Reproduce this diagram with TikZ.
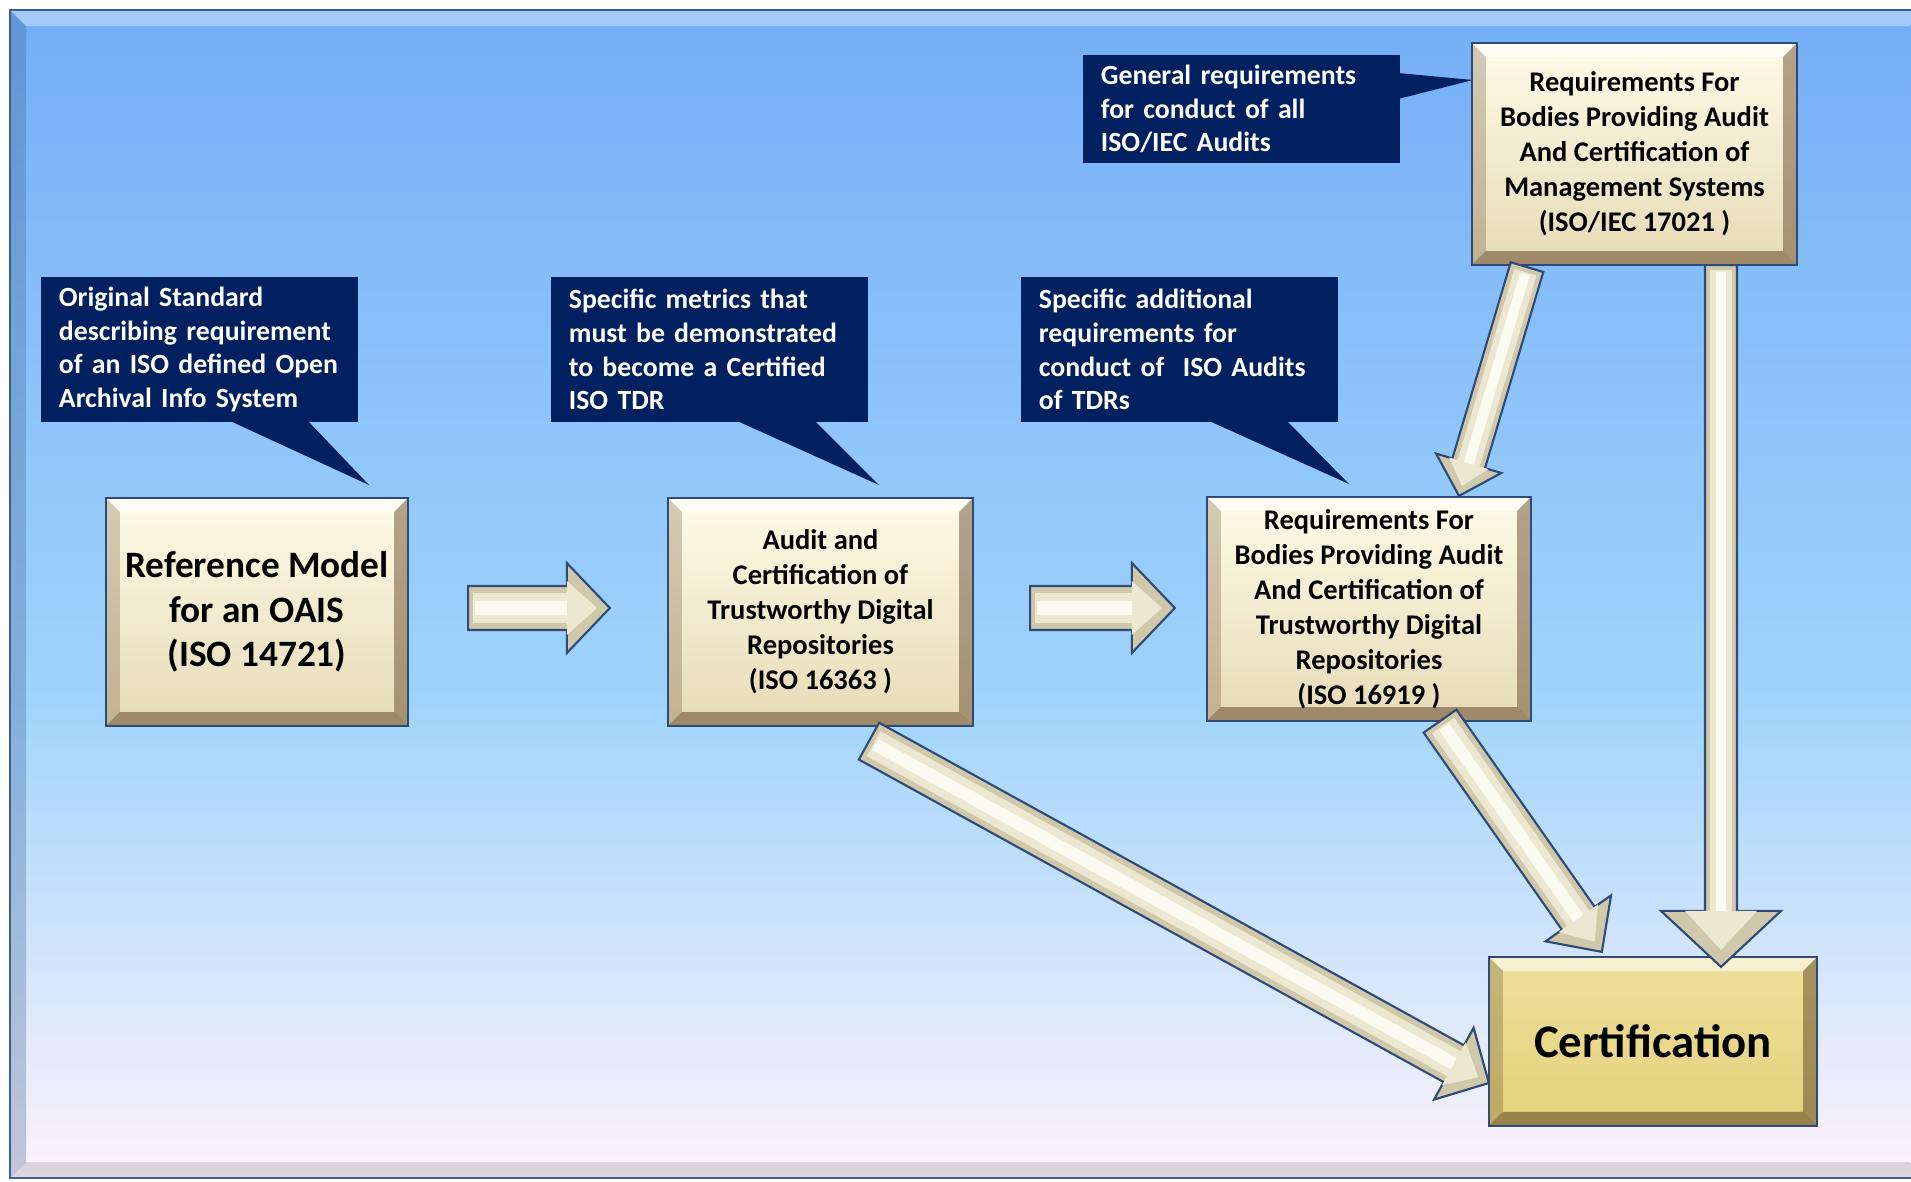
\documentclass[tikz,border=0pt]{standalone}
\usepackage{fontspec}
\setmainfont{Carlito}
\usetikzlibrary{calc}

\definecolor{navynote}{HTML}{002060}
\definecolor{boxline}{HTML}{2E4A78}
\definecolor{panelline}{HTML}{3C5E90}
\definecolor{paneltop}{RGB}{116,174,246}
\definecolor{panelmid}{RGB}{160,212,252}
\definecolor{panelbot}{RGB}{253,243,251}
\definecolor{creamtop}{HTML}{FFFBE8}
\definecolor{creambot}{HTML}{E6DBB6}
\definecolor{goldtop}{HTML}{EEE09A}
\definecolor{goldmid}{HTML}{D3B84E}
\definecolor{goldbot}{HTML}{E4D17C}
\definecolor{arrowtan}{HTML}{CFC8AA}
\definecolor{arrowcream}{HTML}{ECE7D0}
\definecolor{arrowpale}{HTML}{FCFBF2}

\def\pbb{path picture bounding box}

\tikzset{
  note/.style={fill=navynote, text=white, font=\fontsize{7.9}{9.6}\selectfont\bfseries,
    align=left, text width=2.81cm, inner xsep=0.18cm, inner ysep=0pt, minimum width=3.17cm},
  bevel/.style={path picture={
    \fill[white,opacity=.55] (\pbb.north west) -- (\pbb.north east) -- ([xshift=-4pt,yshift=-4pt]\pbb.north east) -- ([xshift=4pt,yshift=-4pt]\pbb.north west) -- cycle;
    \fill[#1,opacity=.25] (\pbb.north west) -- ([xshift=4pt,yshift=-4pt]\pbb.north west) -- ([xshift=4pt,yshift=4pt]\pbb.south west) -- (\pbb.south west) -- cycle;
    \fill[#1,opacity=.45] (\pbb.north east) -- ([xshift=-4pt,yshift=-4pt]\pbb.north east) -- ([xshift=-4pt,yshift=4pt]\pbb.south east) -- (\pbb.south east) -- cycle;
    \fill[#1,opacity=.5] (\pbb.south west) -- ([xshift=4pt,yshift=4pt]\pbb.south west) -- ([xshift=-4pt,yshift=4pt]\pbb.south east) -- (\pbb.south east) -- cycle;
  }},
  stdbox/.style={draw=boxline, line width=0.6pt, top color=creamtop, bottom color=creambot,
    bevel=black!55!brown, align=center, inner sep=0pt, font=\fontsize{8.1}{9.96}\selectfont\bfseries},
  certbox/.style={draw=boxline, line width=0.6pt, top color=goldtop, middle color=goldmid, bottom color=goldbot,
    bevel=black!60!brown, inner sep=0pt, font=\fontsize{13.3}{16}\selectfont\bfseries},
  fatarrow/.style={fill=arrowtan, draw=boxline, line width=0.6pt, line join=miter},
}

% start, end, shaft half width, head half width, head length (px)
\newcommand{\blockarrow}[5]{%
  \coordinate (ba-s) at #1;
  \coordinate (ba-e) at #2;
  \coordinate (ba-n) at ($(ba-e)!#5*0.01cm!(ba-s)$);
  \filldraw[fatarrow] ($(ba-s)!#3*0.01cm!90:(ba-e)$) -- ($(ba-n)!#3*0.01cm!90:(ba-e)$)
    -- ($(ba-n)!#4*0.01cm!90:(ba-e)$) -- (ba-e) -- ($(ba-n)!#4*0.01cm!-90:(ba-e)$)
    -- ($(ba-n)!#3*0.01cm!-90:(ba-e)$) -- ($(ba-s)!#3*0.01cm!-90:(ba-e)$) -- cycle;
  \fill[arrowcream] ($(ba-n)!#4*0.006cm!90:(ba-e)$) -- ($(ba-e)!#5*0.003cm!(ba-s)$)
    -- ($(ba-n)!#4*0.006cm!-90:(ba-e)$) -- cycle;
  \draw[arrowcream, line width=#3*0.0135cm, shorten <=1.5pt] (ba-s) -- (ba-n);
  \draw[arrowpale, line width=#3*0.006cm, shorten <=2pt] (ba-s) -- (ba-n);
}

\begin{document}
\begin{tikzpicture}[x=0.01cm, y=-0.01cm]
	\useasboundingbox (0,0) rectangle (1911,1181);
	\fill[white] (0,0) rectangle (1911,1181);

	\shade[top color=paneltop, bottom color=panelmid] (10,10) rectangle (1925,701);
	\shade[top color=panelmid, bottom color=panelbot] (10,700) rectangle (1925,1178);
	\fill[white,opacity=.35] (10,10) -- (1925,10) -- (1909,26) -- (26,26) -- cycle;
	\fill[panelline,opacity=.3] (10,10) -- (26,26) -- (26,1162) -- (10,1178) -- cycle;
	\fill[black,opacity=.12] (10,1178) -- (26,1162) -- (1909,1162) -- (1925,1178) -- cycle;
	\draw[panelline, line width=0.8pt] (10,10) rectangle (1925,1178);

	\fill[navynote] (228,420) -- (369,485) -- (307,420) -- cycle;
	\fill[navynote] (735,420) -- (879,485) -- (814,420) -- cycle;
	\fill[navynote] (1207,420) -- (1349,484) -- (1286,420) -- cycle;
	\fill[navynote] (1398,73) -- (1473,80) -- (1398,99) -- cycle;

	\node[note, minimum height=1.45cm] (noteA) at (199.5,349.5) {Original Standard\\describing requirement\\of an ISO defined Open\\Archival Info System};
	\node[note, minimum height=1.45cm] (noteB) at (709.5,349.5) {Specific metrics that\\must be demonstrated\\to become a Certified\\ISO TDR};
	\node[note, minimum height=1.45cm] (noteC) at (1179.5,349.5) {Specific additional\\requirements for\\conduct of~ ISO Audits\\of TDRs};
	\node[note, minimum height=1.08cm] (noteD) at (1241.5,109) {General requirements\\for conduct of all\\ISO/IEC Audits};

	\node[stdbox, font=\fontsize{10.6}{12.66}\selectfont\bfseries, minimum width=3.02cm, minimum height=2.28cm] (ref) at (257,612) {Reference Model\\for an OAIS\\(ISO 14721)};
	\node[stdbox, minimum width=3.05cm, minimum height=2.28cm] (tdr) at (820.5,612) {Audit and\\Certification of\\Trustworthy Digital\\Repositories\\(ISO 16363 )};
	\node[stdbox, minimum width=3.24cm, minimum height=2.24cm] (bodies) at (1369,609) {Requirements For\\Bodies Providing Audit\\And Certification of\\Trustworthy Digital\\Repositories\\(ISO 16919 )};
	\node[stdbox, minimum width=3.25cm, minimum height=2.22cm] (mgmt) at (1634.5,154) {Requirements For\\Bodies Providing Audit\\And Certification of\\Management Systems\\(ISO/IEC 17021 )};
	\node[certbox, minimum width=3.28cm, minimum height=1.69cm] (cert) at (1653,1041.5) {Certification};

	\blockarrow{($(ref.east)+(59,-4)$)}{($(tdr.west)+(-57,-4)$)}{22}{45}{43}
	\blockarrow{($(tdr.east)+(56,-4)$)}{($(bodies.west)+(-31,-1)$)}{22}{45}{43}
	\blockarrow{($(mgmt.south)+(-107.5,1)$)}{($(bodies.north)+(90,0)$)}{17}{34}{34}
	\blockarrow{($(mgmt.south)+(86.5,-1)$)}{($(cert.north)+(68,11)$)}{16}{60}{56}
	\blockarrow{($(bodies.south)+(71,-1)$)}{($(cert.north west)+(114,-4)$)}{20}{40}{41}
	\blockarrow{($(tdr.south)+(48.5,14)$)}{($(cert.west)+(1,41.5)$)}{21}{41}{40}
\end{tikzpicture}
\end{document}
